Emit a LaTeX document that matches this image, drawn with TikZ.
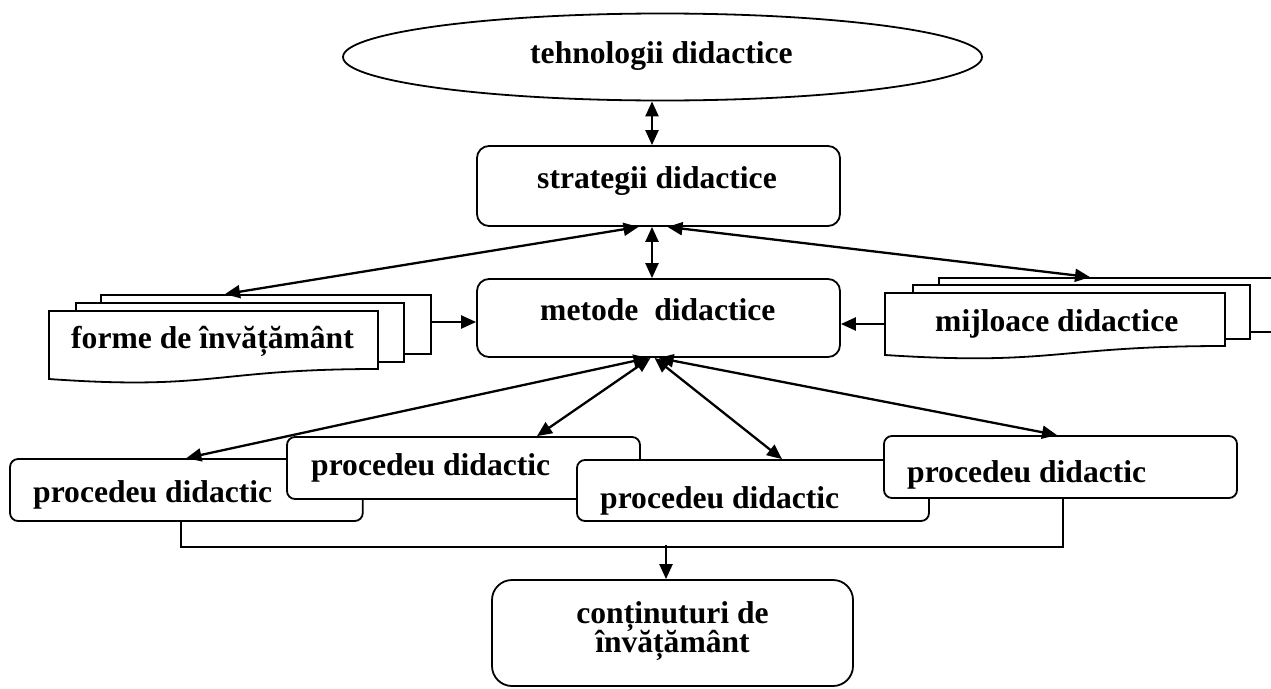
\documentclass[tikz,border=0pt]{standalone}
\usepackage{fontspec}
\setmainfont{Liberation Serif}
\usetikzlibrary{arrows.meta,shapes.geometric}

\tikzset{
  x=1pt, y=-1pt,
  lbl/.style={font=\bfseries\fontsize{31.6}{29}\selectfont, inner sep=0pt, anchor=base west},
  clbl/.style={lbl, anchor=base},
  rbox/.style={draw, line width=1.8pt, fill=white, rounded corners=#1, inner sep=0pt},
  rbox/.default=8pt,
  sheet/.style={draw, line width=1.8pt, fill=white, inner sep=0pt},
  ghost/.style={inner sep=0pt},
  tip/.tip={Triangle[length=15pt,width=13pt]},
  link/.style={line width=2.3pt, tip-tip},
  arr/.style={line width=2.3pt, -tip},
  bus/.style={line width=1.8pt},
}

\begin{document}
\begin{tikzpicture}
\useasboundingbox (0,0) rectangle (1271,688);
\clip (0,0) rectangle (1271,688);

% top: technologies
\node[draw, ellipse, line width=1.8pt, minimum width=639pt, minimum height=87pt, inner sep=0pt] (tech) at (662.5,57) {};
\node[lbl] (techtxt) at (530,63) {tehnologii didactice};

% strategies and methods
\node[rbox=12pt, minimum width=363pt, minimum height=80pt] (strat) at (658.5,186) {};
\node[lbl] (strattxt) at (537,188) {strategii didactice};
\node[rbox=12pt, minimum width=363pt, minimum height=78pt] (metode) at (658.5,318) {};
\node[lbl] (metodetxt) at (540,320) {metode\ \ didactice};

% stacked sheets: forms of teaching
\node[sheet, minimum width=330pt, minimum height=59pt] (f3) at (266,324.5) {};
\node[sheet, minimum width=328pt, minimum height=59pt] (f2) at (240,332.5) {};
\node[ghost, minimum width=329pt, minimum height=68pt] (f1) at (213.5,345) {};
\draw[line width=1.8pt, fill=white] (49,311) -- (378,311) -- (378,369)
  .. controls (213.5,369) and (213.5,390.7) .. (49,379) -- cycle;
\node[lbl] (f1txt) at (71,348) {forme de învățământ};

% stacked sheets: teaching aids
\node[sheet, minimum width=351pt, minimum height=54pt] (m3) at (1114.5,305) {};
\node[sheet, minimum width=337pt, minimum height=54pt] (m2) at (1081.5,312) {};
\node[ghost, minimum width=340pt, minimum height=62pt] (m1) at (1055,324) {};
\draw[line width=1.8pt, fill=white] (885,293) -- (1225,293) -- (1225,346)
  .. controls (1055,346) and (1055,366) .. (885,355) -- cycle;
\node[lbl] (m1txt) at (935,331) {mijloace didactice};

% procedures, each overlapping the previous one
\node[rbox, minimum width=352.7pt, minimum height=62pt] (p1) at (186.4,490) {};
\node[lbl] (p1txt) at (33,502) {procedeu didactic};
\node[rbox, minimum width=353pt, minimum height=62pt] (p2) at (463.5,468) {};
\node[lbl] (p2txt) at (311,475) {procedeu didactic};
\node[rbox, minimum width=352pt, minimum height=61pt] (p3) at (753,490.5) {};
\node[lbl] (p3txt) at (600,508) {procedeu didactic};
\node[rbox, minimum width=353pt, minimum height=62pt] (p4) at (1060.5,467) {};
\node[lbl] (p4txt) at (907,482) {procedeu didactic};

% contents
\node[rbox=20pt, minimum width=361pt, minimum height=106pt] (cont) at (672.5,633) {};
\node[clbl] (conttxt1) at (672.5,623) {conținuturi de};
\node[clbl] (conttxt2) at (672.5,652) {învățământ};

% vertical links
\draw[link] ([xshift=-10.5pt]tech.south) -- ([xshift=-6.5pt]strat.north);
\draw[link] ([xshift=-6.5pt]strat.south) -- ([xshift=-6.5pt]metode.north);

% strategies to forms and aids
\draw[link] ([xshift=-20pt]strat.south) -- ([xshift=-41pt]f3.north);
\draw[link] ([xshift=9pt]strat.south) -- ([xshift=-24.5pt]m3.north);

% forms and aids feed the methods
\coordinate (fa) at ([yshift=2.5pt]f3.east);
\draw[arr] (fa) -- (fa -| metode.west);
\draw[arr] (m1.west) -- (m1.west -| metode.east);

% methods to procedures
\draw[link] ([xshift=-10pt]metode.south) -- (p1.north);
\draw[link] ([xshift=-8pt]metode.south) -- ([xshift=73.5pt]p2.north);
\draw[link] ([xshift=-4pt]metode.south) -- ([xshift=29pt]p3.north);
\draw[link] ([xshift=0pt]metode.south) -- ([xshift=-3.5pt]p4.north);

% procedures gathered into the contents
\draw[bus] ([xshift=-5.4pt]p1.south) |- ([xshift=2.5pt,yshift=-48pt]p4.south) -- ([xshift=2.5pt]p4.south);
\coordinate (junc) at ([xshift=-6.5pt,yshift=34pt]cont.north);
\draw[arr] (junc) -- ([xshift=-6.5pt]cont.north);
\end{tikzpicture}
\end{document}
